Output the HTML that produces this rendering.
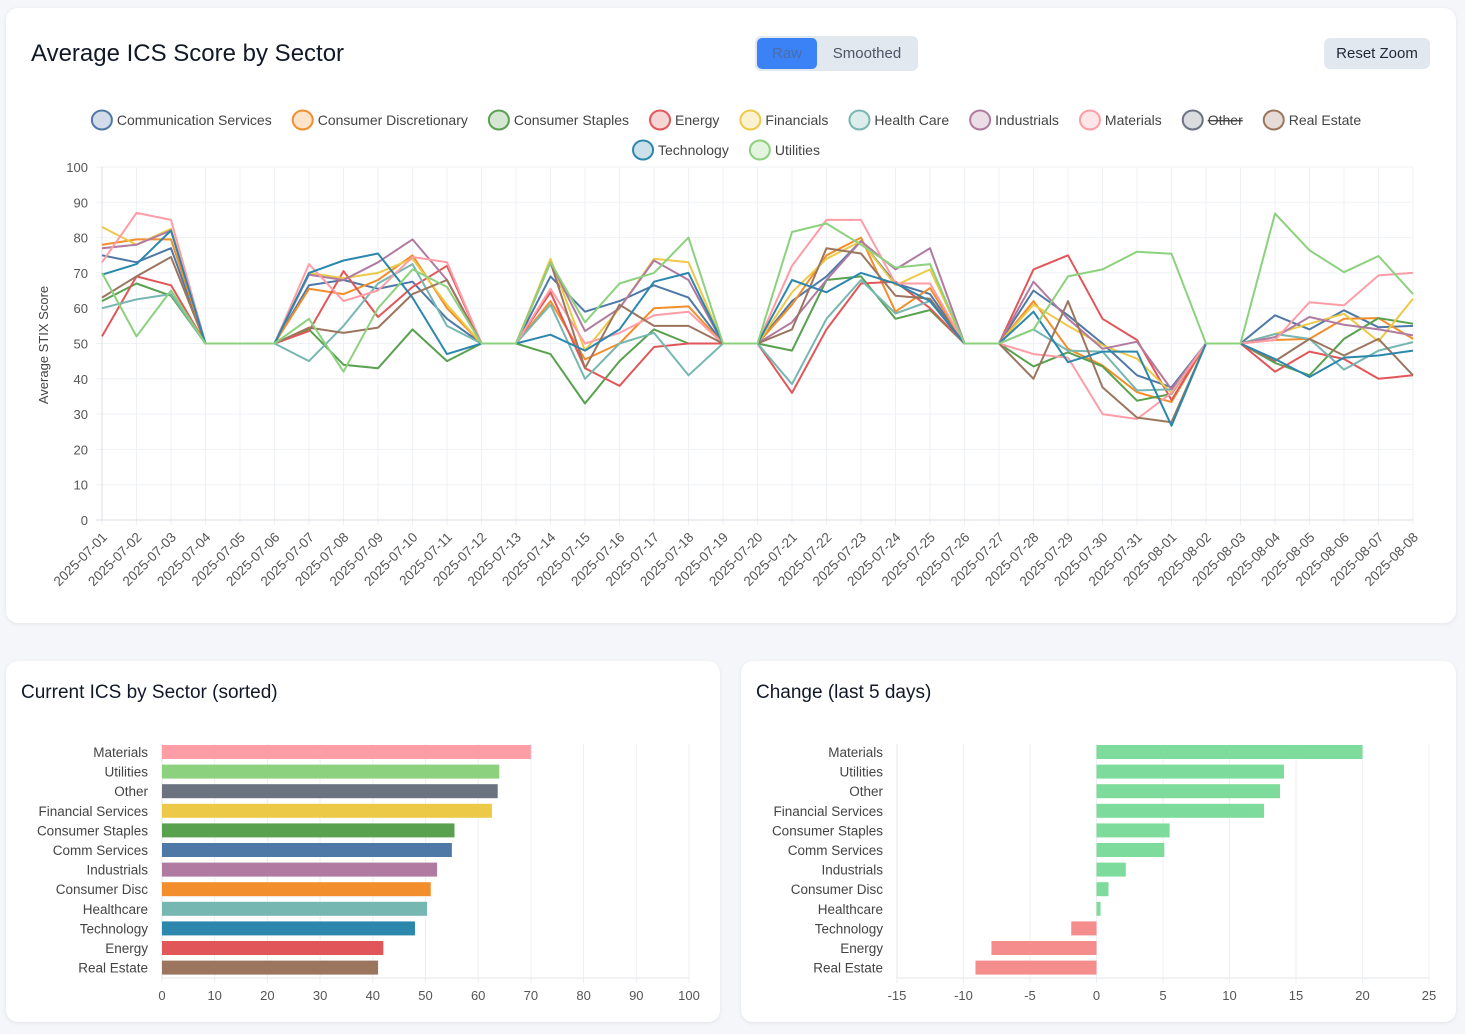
<!DOCTYPE html>
<html><head><meta charset="utf-8"><style>
body{margin:0;width:1465px;height:1034px;background:#f4f6f9;font-family:"Liberation Sans",sans-serif;position:relative;overflow:hidden}
.card{position:absolute;background:#fff;border-radius:12px;box-shadow:0 1px 4px rgba(0,0,0,0.08)}
.abs{position:absolute}
svg text{font-family:"Liberation Sans",sans-serif}
</style></head><body>
<div class="card" style="left:6px;top:8px;width:1450px;height:615px"></div>
<div class="card" style="left:6px;top:661px;width:714px;height:361px"></div>
<div class="card" style="left:741px;top:661px;width:715px;height:361px"></div>
<div class="abs" style="left:31px;top:40px;font-size:24px;color:#111827">Average ICS Score by Sector</div>
<div class="abs" style="left:755px;top:36px;width:163px;height:35px;background:#e2e8f0;border-radius:6px"></div>
<div class="abs" style="left:757px;top:38px;width:60px;height:31px;background:#3b82f6;border-radius:5px;color:#4b6ea8;font-size:15px;line-height:31px;text-align:center">Raw</div>
<div class="abs" style="left:820px;top:38px;width:94px;height:31px;color:#4b5563;font-size:15px;line-height:31px;text-align:center">Smoothed</div>
<div class="abs" style="left:1324px;top:38px;width:106px;height:31px;background:#e2e8f0;border-radius:6px;color:#1f2937;font-size:15px;line-height:31px;text-align:center">Reset Zoom</div>
<div class="abs" style="left:21px;top:682px;font-size:19px;color:#111827">Current ICS by Sector (sorted)</div>
<div class="abs" style="left:756px;top:682px;font-size:19px;color:#111827">Change (last 5 days)</div>
<svg id="main" class="abs" style="left:0;top:0" width="1465" height="1034"></svg>
<script>
const dates=[];for(let d=1;d<=31;d++)dates.push('2025-07-'+String(d).padStart(2,'0'));for(let d=1;d<=8;d++)dates.push('2025-08-0'+d);
const seriesNames=["Communication Services","Consumer Discretionary","Consumer Staples","Energy","Financials","Health Care","Industrials","Materials","Other","Real Estate","Technology","Utilities"];
const seriesColors=["#4e79a7","#f28e2b","#59a14f","#e15759","#edc948","#76b7b2","#b07aa1","#ff9da7","#6b7280","#9c755f","#2c87ad","#8cd17d"];
const hidden=[false,false,false,false,false,false,false,false,true,false,false,false];
const comm=[75,73,77,50,50,50,66.5,68,65.5,67.5,57,50,50,69,59,62,66.5,63,50,50,62,69,79,67,64,50,50,65,58,50,41,37.6,50,50,58,54,59.4,54.6,55];
const disc=[78,79.5,79.5,50,50,50,65.5,64,68,75,60,50,50,62,45.5,50,60,60.5,50,50,61,75,80,59,65.7,50,50,62,48.5,43.8,36.2,33.4,50,50,51,51.3,57,57.2,51.3];
const staples=[62,67,63.5,50,50,50,54,44,43,54,45,50,50,47,33,45,54,50,50,50,48,68,69,57,59.5,50,50,43.5,47.5,43.5,33.8,35.7,50,50,44.5,41,51.3,57.2,55.6];
const energy=[52,69,66.5,50,50,50,53.5,70.5,57.5,66,72,50,50,64.5,43,38,49,50,50,50,36,54,67,67.5,60,50,50,71,75,57,51,34,50,50,42,47.7,45.6,40,41];
const fin=[83,78,82.5,50,50,50,70,68.5,70,74,61,50,50,74,48,60,74,73,50,50,64.5,74,79,66.5,71,50,50,61,55,49.5,45.7,36,50,50,52.7,55.6,58.4,50.6,62.7];
const hc=[60,62.5,64,50,50,50,45,55,67,72.5,55,50,50,61,40,50,53,41,50,50,38.5,57,68,58.5,62,50,50,54,48,47.7,36.7,37,50,50,52.7,51.3,42.6,48,50.4];
const ind=[77,78,82,50,50,50,69.5,68,73,79.5,68,50,50,73,53.5,60,73.5,68,50,50,56,68,79,71,77,50,50,67.5,57,48.5,50.5,37,50,50,51.8,57.5,55.3,54,52.3];
const mat=[73,87,85,50,50,50,72.5,62,65,74.5,73,50,50,65.5,50,53,58,59,50,50,72,85,85,67,67,50,50,47,46,30,28.6,36,50,50,51,61.7,60.8,69.3,70];
const other=[60,60,60,50,50,50,60,60,60,60,60,50,50,60,60,60,60,60,50,50,60,60,60,60,60,50,50,60,60,60,60,60,50,50,60,60,60,60,63.7];
const re=[63,69,74.5,50,50,50,54.5,53,54.5,64,68,50,50,73,43,61,55,55,50,50,54,77,75.5,63.5,62.7,50,50,40,62,37.6,29,27.7,50,50,45,51.3,46.6,51.3,41];
const tech=[69.5,72.5,82,50,50,50,70,73.5,75.5,63,47,50,50,52.5,48,54,67.5,70,50,50,68,64.5,70,67,62,50,50,59,44.7,47.7,47.7,26.7,50,50,45.6,40.5,46,46.6,48];
const util=[70,52,65,50,50,50,57,42,60,71,66,50,50,73,56,67,70,80,50,50,81.6,84,78,71.5,72.5,50,50,54,69,71,76,75.4,50,50,86.8,76.4,70.2,74.8,64];
const allSeries=[comm,disc,staples,energy,fin,hc,ind,mat,other,re,tech,util];
const yTicks=[0,10,20,30,40,50,60,70,80,90,100];
const barCats=["Materials","Utilities","Other","Financial Services","Consumer Staples","Comm Services","Industrials","Consumer Disc","Healthcare","Technology","Energy","Real Estate"];
const barVals=[70,64,63.7,62.6,55.5,55,52.2,51,50.3,48,42,41];
const barColors=["#ff9da7","#8cd17d","#6b7280","#edc948","#59a14f","#4e79a7","#b07aa1","#f28e2b","#76b7b2","#2c87ad","#e15759","#9c755f"];
const barTicks=[0,10,20,30,40,50,60,70,80,90,100];
const chgVals=[20,14.1,13.8,12.6,5.5,5.1,2.2,0.9,0.3,-1.9,-7.9,-9.1];
const chgTicks=[-15,-10,-5,0,5,10,15,20,25];

const svg=document.getElementById('main');const NS='http://www.w3.org/2000/svg';
function mk(t,a,p){const e=document.createElementNS(NS,t);for(const k in a)e.setAttribute(k,a[k]);(p||svg).appendChild(e);return e;}
const X0=102,X1=1413,Y0=520,Y1=167;
const xs=i=>X0+i*(X1-X0)/(dates.length-1);
const ys=v=>Y0-(v/100)*(Y0-Y1);
dates.forEach((d,i)=>{const l=mk('line',{x1:xs(i),x2:xs(i),y1:Y1,y2:Y0+5,stroke:'#eef1f5'});

const tx=xs(i)+6,ty=Y0+18;
const t=mk('text',{x:tx,y:ty,'font-size':13.5,fill:'#555','text-anchor':'end',transform:`rotate(-45 ${tx} ${ty})`});t.textContent=d;
});
yTicks.forEach(v=>{const l=mk('line',{x1:X0-6,x2:X1,y1:ys(v),y2:ys(v),stroke:v===0?'#d9dde3':'#eef1f5'});

const t=mk('text',{x:X0-14,y:ys(v)+5,'font-size':13,fill:'#555','text-anchor':'end'});t.textContent=v;
});
mk('line',{x1:X0,x2:X0,y1:Y1,y2:Y0,stroke:'#d9dde3'});
const yt=mk('text',{x:48,y:345,'font-size':13,fill:'#444','text-anchor':'middle',transform:'rotate(-90 48 345)'});yt.textContent='Average STIX Score';

allSeries.forEach((s,k)=>{if(hidden[k])return;const p=mk('path',{d:s.map((v,i)=>(i?'L':'M')+xs(i).toFixed(1)+','+ys(v).toFixed(1)).join(''),fill:'none',stroke:seriesColors[k],'stroke-width':2,'stroke-linejoin':'round'});
});
const rows=[[0,1,2,3,4,5,6,7,8,9],[10,11]];
const ctx=document.createElement('canvas').getContext('2d');ctx.font='14px "Liberation Sans"';
rows.forEach((r,ri)=>{const widths=r.map(k=>32+ctx.measureText(seriesNames[k]).width);const gap=14;const tot=widths.reduce((a,b)=>a+b,0)+(r.length-1)*gap;let x=729-tot/2;const y=120+ri*30;
r.forEach((k,j)=>{const g=mk('g',{});
mk('ellipse',{cx:x+11,cy:y,rx:10,ry:9.5,fill:seriesColors[k],'fill-opacity':0.25,stroke:seriesColors[k],'stroke-width':2},g);
const t=mk('text',{x:x+26,y:y+5,'font-size':14,fill:'#444'},g);t.textContent=seriesNames[k];
if(hidden[k])t.setAttribute('text-decoration','line-through');x+=widths[j]+gap;});});
const BX0=162,BX1=689,BYt=744,BYb=978,rowStart=752,rowStep=19.6;
const bx=v=>BX0+v/100*(BX1-BX0);
barTicks.forEach(v=>{const l=mk('line',{x1:bx(v),x2:bx(v),y1:BYt,y2:BYb+5,stroke:'#eceff3'});
const t=mk('text',{x:bx(v),y:1000,'font-size':13,fill:'#555','text-anchor':'middle'});t.textContent=v;});
mk('line',{x1:BX0,x2:BX1,y1:BYb,y2:BYb,stroke:'#e2e5ea'});mk('line',{x1:BX0,x2:BX0,y1:BYt,y2:BYb,stroke:'#e2e5ea'});
barCats.forEach((c,i)=>{const cy=rowStart+rowStep*i;
const r=mk('rect',{x:BX0,y:cy-7,width:bx(barVals[i])-BX0,height:14,fill:barColors[i]});
const t=mk('text',{x:148,y:cy+5,'font-size':13.5,fill:'#444','text-anchor':'end'});t.textContent=c;});
const CX0=897,CX1=1429;const cx=v=>CX0+(v+15)/40*(CX1-CX0);
chgTicks.forEach(v=>{const l=mk('line',{x1:cx(v),x2:cx(v),y1:BYt,y2:BYb+5,stroke:'#eceff3'});
const t=mk('text',{x:cx(v),y:1000,'font-size':13,fill:'#555','text-anchor':'middle'});t.textContent=v;});
mk('line',{x1:CX0,x2:CX1,y1:BYb,y2:BYb,stroke:'#e2e5ea'});mk('line',{x1:CX0,x2:CX0,y1:BYt,y2:BYb,stroke:'#e2e5ea'});
barCats.forEach((c,i)=>{const cy=rowStart+rowStep*i;const v=chgVals[i];
const r=mk('rect',{x:Math.min(cx(0),cx(v)),y:cy-7,width:Math.abs(cx(v)-cx(0)),height:14,fill:v>=0?'#7ddc9b':'#f58d8d'});
const t=mk('text',{x:883,y:cy+5,'font-size':13.5,fill:'#444','text-anchor':'end'});t.textContent=c;});
</script>
</body></html>
